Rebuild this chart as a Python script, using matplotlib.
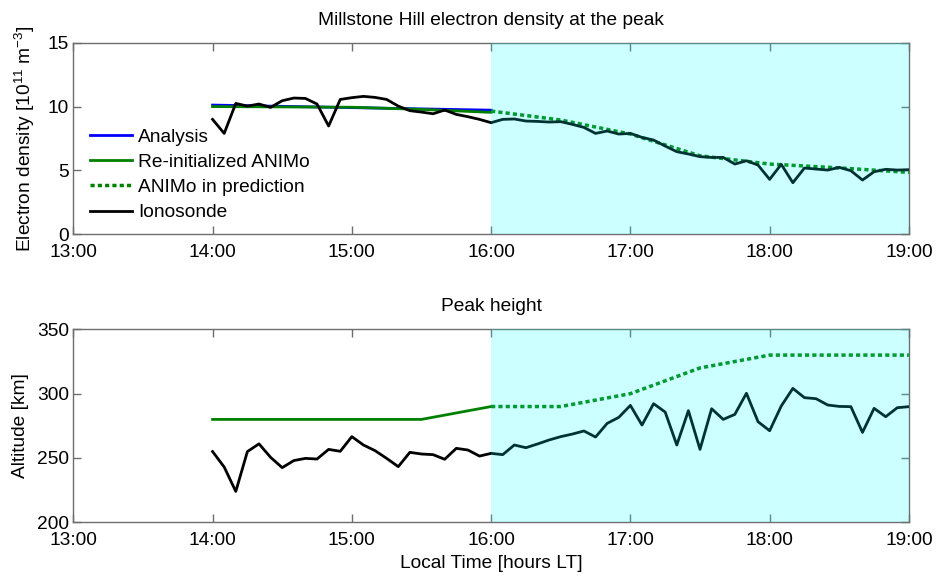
import numpy as np
import matplotlib
matplotlib.use("Agg")
import matplotlib.pyplot as plt

plt.rcParams['font.family'] = ['Liberation Sans', 'DejaVu Sans']
plt.rcParams['mathtext.fontset'] = 'custom'
plt.rcParams['mathtext.rm'] = 'Liberation Sans'

# ---- data ----
t_start, t_end, t_step_min = 14.0, 19.0, 5  # ionosonde sampling (hours, minutes)
iono_time = np.arange(t_start * 60, t_end * 60 + 1, t_step_min) / 60.0

iono_ne = [9.0, 7.9, 10.25, 10.04, 10.2, 9.94, 10.46, 10.67, 10.64, 10.2,
           8.48, 10.56, 10.7, 10.8, 10.72, 10.56, 10.04, 9.68, 9.57, 9.44,
           9.73, 9.39, 9.21, 9.0, 8.74,
           9.0, 9.03, 8.87, 8.84, 8.79, 8.82, 8.61, 8.37, 7.9, 8.09,
           7.85, 7.9, 7.59, 7.38, 6.91, 6.47, 6.29, 6.08, 6.02, 6.02,
           5.5, 5.76, 5.42, 4.3, 5.48, 4.04, 5.19, 5.11, 5.03, 5.24,
           4.98, 4.25, 4.9, 5.09, 5.03, 5.06]

iono_hm = [255, 243, 224, 255, 261, 250.5, 242.5, 248, 249.7, 249.2,
           256.7, 255.2, 266.6, 260.1, 255.7, 249.7, 243.3, 254.4, 253.1, 252.6,
           249, 257.5, 256.2, 251.5, 253.6,
           252.6, 260.1, 258, 260.9, 264, 266.6, 268.6, 271, 266.3, 276.9,
           281.6, 290.9, 275.6, 292.2, 285.7, 260.1, 286.8, 256.7, 288.3, 280,
           283.9, 300.3, 278.2, 271.2, 290.4, 304.1, 296.9, 296.1, 291.2, 290.1,
           289.9, 269.9, 288.6, 282.1, 289.1, 289.9]

analysis_time = [14.0, 16.0]
analysis_ne = [10.12, 9.72]

reinit_time = [14.0, 15.0, 15.5, 16.0]
reinit_ne = [10.0, 9.95, 9.78, 9.55]
reinit_hm_time = [14.0, 15.5, 16.0]
reinit_hm = [280, 280, 290]

pred_time = [16.0, 16.5, 17.0, 17.5, 18.0, 18.5, 19.0]
pred_ne = [9.65, 8.95, 7.85, 6.15, 5.5, 5.2, 4.85]
pred_hm = [290, 290, 300, 320, 330, 330, 330]

xticks = [13, 14, 15, 16, 17, 18, 19]
xticklabels = ['13:00', '14:00', '15:00', '16:00', '17:00', '18:00', '19:00']
pred_window = (16.0, 19.0)

# ---- style ----
FS = 13.8
BLUE = '#0000ff'
GREEN = '#008000'
SPINE = '#6e6e6e'
LW = 2.0
DOT = (0, (1.2, 0.9))

fig = plt.figure(figsize=(9.41, 5.76), dpi=100)
ax1 = fig.add_axes([0.0779, 0.5932, 0.888, 0.3326])
ax2 = fig.add_axes([0.0779, 0.0932, 0.888, 0.3350])


def style(ax):
    ax.set_xlim(13, 19)
    ax.set_xticks(xticks)
    ax.set_xticklabels(xticklabels)
    ax.tick_params(direction='in', top=True, right=True, length=6,
                   width=1.0, color=SPINE, labelsize=FS)
    ax.tick_params(axis='x', pad=7)
    ax.tick_params(axis='y', pad=3)
    for s in ax.spines.values():
        s.set_color(SPINE)
        s.set_linewidth(1.0)
    ax.axvspan(pred_window[0], pred_window[1], color='#00ffff', alpha=0.2,
               lw=0, zorder=5)


# top panel
ax1.plot(analysis_time, analysis_ne, color=BLUE, lw=LW, label='Analysis', zorder=2)
ax1.plot(reinit_time, reinit_ne, color=GREEN, lw=LW, label='Re-initialized ANIMo', zorder=3)
ax1.plot(pred_time, pred_ne, color=GREEN, lw=LW + 0.5, ls=DOT, label='ANIMo in prediction', zorder=3)
ax1.plot(iono_time, iono_ne, color='black', lw=LW, label='Ionosonde', zorder=4)
ax1.set_ylim(0, 15)
ax1.set_yticks([0, 5, 10, 15])
style(ax1)
ax1.set_title('Millstone Hill electron density at the peak', fontsize=FS, pad=13)
ax1.set_ylabel(r'Electron density [10$\mathregular{^{11}}$ m$\mathregular{^{-3}}$]',
               fontsize=FS, labelpad=8)
leg = ax1.legend(loc='center left', bbox_to_anchor=(0.02, 0.31), frameon=False,
                 fontsize=FS, handlelength=2.2, handletextpad=0.3,
                 labelspacing=0.4, borderaxespad=0, borderpad=0)

# bottom panel
ax2.plot(reinit_hm_time, reinit_hm, color=GREEN, lw=LW, zorder=3)
ax2.plot(pred_time, pred_hm, color=GREEN, lw=LW + 0.5, ls=DOT, zorder=3)
ax2.plot(iono_time, iono_hm, color='black', lw=LW, zorder=4)
ax2.set_ylim(200, 350)
ax2.set_yticks([200, 250, 300, 350])
style(ax2)
ax2.set_title('Peak height', fontsize=FS, pad=13)
ax2.set_ylabel('Altitude [km]', fontsize=FS, labelpad=6)
ax2.set_xlabel('Local Time [hours LT]', fontsize=FS, labelpad=4)

fig.savefig('out.png', dpi=100)
